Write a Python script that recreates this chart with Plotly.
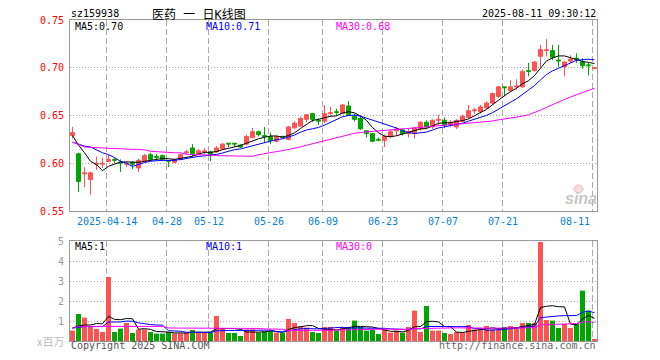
import plotly.graph_objects as go

# ---------------- data ----------------
stock_code = "sz159938"
chart_title = "医药 一 日K线图"
timestamp = "2025-08-11 09:30:12"

tick_index = [6, 16, 23, 33, 42, 52, 62, 72, 87]
tick_labels = ["2025-04-14", "04-28", "05-12", "05-26", "06-09",
               "06-23", "07-07", "07-21", "08-11"]
price_ticks = [0.55, 0.60, 0.65, 0.70, 0.75]
vol_ticks = [1, 2, 3, 4, 5]

open_ = [0.629, 0.610, 0.589, 0.583, 0.599, 0.599, 0.602, 0.604, 0.601, 0.599,
         0.601, 0.595, 0.602, 0.609, 0.607, 0.608, 0.603, 0.601, 0.604, 0.611,
         0.616, 0.610, 0.612, 0.612, 0.612, 0.615, 0.621, 0.621, 0.619, 0.620,
         0.627, 0.633, 0.629, 0.628, 0.623, 0.628, 0.625, 0.637, 0.639, 0.646,
         0.652, 0.645, 0.644, 0.652, 0.654, 0.652, 0.660, 0.649, 0.647, 0.634,
         0.631, 0.625, 0.624, 0.628, 0.634, 0.635, 0.631, 0.631, 0.636, 0.643,
         0.638, 0.645, 0.645, 0.640, 0.638, 0.644, 0.648, 0.655, 0.654, 0.658,
         0.663, 0.670, 0.680, 0.676, 0.680, 0.680, 0.697, 0.697, 0.712, 0.718,
         0.718, 0.708, 0.701, 0.707, 0.710, 0.706, 0.703, 0.699]
high = [0.638, 0.611, 0.596, 0.591, 0.607, 0.606, 0.609, 0.606, 0.604, 0.602,
        0.602, 0.605, 0.610, 0.611, 0.610, 0.609, 0.603, 0.605, 0.610, 0.614,
        0.620, 0.615, 0.616, 0.613, 0.618, 0.621, 0.621, 0.621, 0.620, 0.630,
        0.637, 0.634, 0.638, 0.632, 0.628, 0.629, 0.639, 0.644, 0.649, 0.651,
        0.652, 0.647, 0.661, 0.659, 0.657, 0.662, 0.665, 0.652, 0.650, 0.634,
        0.631, 0.627, 0.630, 0.635, 0.638, 0.636, 0.636, 0.638, 0.644, 0.645,
        0.646, 0.651, 0.648, 0.645, 0.646, 0.651, 0.661, 0.658, 0.661, 0.665,
        0.674, 0.681, 0.680, 0.687, 0.688, 0.698, 0.705, 0.707, 0.724, 0.730,
        0.724, 0.724, 0.707, 0.713, 0.715, 0.710, 0.705, 0.701]
low = [0.626, 0.570, 0.575, 0.567, 0.593, 0.595, 0.601, 0.600, 0.591, 0.596,
       0.594, 0.591, 0.601, 0.602, 0.603, 0.602, 0.596, 0.600, 0.603, 0.609,
       0.607, 0.609, 0.609, 0.602, 0.611, 0.614, 0.617, 0.617, 0.616, 0.619,
       0.626, 0.628, 0.622, 0.620, 0.622, 0.626, 0.624, 0.636, 0.638, 0.643,
       0.643, 0.640, 0.642, 0.650, 0.650, 0.652, 0.650, 0.644, 0.635, 0.627,
       0.622, 0.623, 0.617, 0.626, 0.629, 0.629, 0.627, 0.626, 0.634, 0.636,
       0.636, 0.640, 0.637, 0.638, 0.636, 0.643, 0.647, 0.652, 0.652, 0.657,
       0.661, 0.668, 0.670, 0.675, 0.677, 0.679, 0.691, 0.696, 0.701, 0.712,
       0.708, 0.701, 0.691, 0.705, 0.705, 0.699, 0.692, 0.699]
close = [0.632, 0.581, 0.590, 0.590, 0.600, 0.600, 0.604, 0.603, 0.600, 0.600,
         0.599, 0.603, 0.608, 0.604, 0.606, 0.604, 0.602, 0.604, 0.609, 0.612,
         0.610, 0.613, 0.613, 0.609, 0.616, 0.620, 0.620, 0.620, 0.617, 0.628,
         0.633, 0.630, 0.628, 0.624, 0.628, 0.627, 0.638, 0.642, 0.647, 0.651,
         0.646, 0.644, 0.652, 0.653, 0.653, 0.661, 0.651, 0.646, 0.636, 0.631,
         0.623, 0.624, 0.628, 0.633, 0.636, 0.631, 0.633, 0.637, 0.643, 0.638,
         0.645, 0.646, 0.640, 0.643, 0.645, 0.649, 0.655, 0.656, 0.659, 0.663,
         0.673, 0.680, 0.679, 0.680, 0.681, 0.696, 0.696, 0.706, 0.719, 0.719,
         0.711, 0.707, 0.706, 0.709, 0.709, 0.702, 0.702, 0.700]
volume = [0.52, 1.35, 1.17, 0.72, 0.60, 0.45, 3.20, 0.45, 0.62, 0.90,
          0.40, 0.58, 0.58, 0.45, 0.37, 0.37, 0.45, 0.38, 0.38, 0.42,
          0.55, 0.42, 0.42, 0.42, 1.25, 0.63, 0.40, 0.40, 0.25, 0.58,
          0.58, 0.42, 0.47, 0.50, 0.42, 0.42, 1.10, 0.90, 0.73, 0.67,
          0.45, 0.40, 0.70, 0.70, 0.52, 0.70, 0.70, 1.02, 0.70, 0.52,
          0.55, 0.35, 0.58, 0.42, 0.52, 0.42, 0.70, 1.52, 0.45, 1.75,
          0.52, 0.52, 0.40, 0.35, 0.45, 0.40, 0.80, 0.58, 0.58, 0.75,
          0.58, 0.58, 0.70, 0.75, 0.70, 0.90, 0.90, 0.90, 4.95, 1.05,
          1.02, 0.65, 0.85, 0.65, 0.85, 2.52, 1.52, 0.10]

# moving-average values for the first days (before a full window exists)
ma5_head = [0.629, 0.619, 0.611, 0.602]
ma10_head = [0.622, 0.620, 0.618, 0.617, 0.614, 0.611, 0.609, 0.606, 0.602]
ma30_head = [0.622, 0.620, 0.617, 0.6165, 0.616, 0.6157, 0.6157, 0.6155, 0.615, 0.6147,
             0.6145, 0.6145, 0.614, 0.6125, 0.612, 0.612, 0.611, 0.611, 0.611, 0.6095,
             0.609, 0.609, 0.6086, 0.6086, 0.608, 0.608, 0.6075, 0.6075, 0.6075]
vma5_head = [0.65, 0.75, 0.80, 0.80]
vma10_head = [0.65, 0.70, 0.72, 0.72, 0.72, 0.72, 0.95, 0.95, 0.95]
vma30_head = [0.62] + [0.73] * 15 + [0.65] * 13


def rolling(vals, n, head):
    out = list(head)
    for i in range(len(head), len(vals)):
        out.append(sum(vals[i - n + 1:i + 1]) / n)
    return out


ma5 = rolling(close, 5, ma5_head)
ma10 = rolling(close, 10, ma10_head)
ma30 = rolling(close, 30, ma30_head)
vma5 = rolling(volume, 5, vma5_head)
vma10 = rolling(volume, 10, vma10_head)
vma30 = rolling(volume, 30, vma30_head)

# ---------------- style ----------------
RED = "#FF5252"
GREEN = "#00A600"
MONO = "DejaVu Sans Mono"
GRID = "#AAAAAA"
BORDER = "#999999"

OFF = 8                      # page body margin of the html page
W, H = 660 - OFF, 360 - OFF  # figure size that fits the window
L, R, T, B = 70, 597, 20, 341  # plot-area edges in window pixels


def px(x):
    return (x - L) / (R - L)


def py(y):
    return (B - y) / (B - T)


n = len(close)
idx = list(range(n))
up = [c >= o for o, c in zip(open_, close)]

fig = go.Figure()

# candle wicks
for is_up, col in ((True, RED), (False, GREEN)):
    wx, wy = [], []
    for i in idx:
        if up[i] == is_up:
            wx += [i, i, None]
            wy += [low[i], high[i], None]
    fig.add_trace(go.Scatter(x=wx, y=wy, mode="lines", line=dict(color=col, width=1),
                             hoverinfo="skip", xaxis="x", yaxis="y"))

# candle bodies
for is_up, col in ((True, RED), (False, GREEN)):
    bx = [i for i in idx if up[i] == is_up]
    base = [min(open_[i], close[i]) for i in bx]
    h = [abs(close[i] - open_[i]) for i in bx]
    fig.add_trace(go.Bar(x=bx, y=h, base=base, width=4 / 6,
                         marker=dict(color=col, line=dict(color=col, width=1)),
                         xaxis="x", yaxis="y"))

# price MAs
for vals, col in ((ma5, "black"), (ma10, "#0000FF"), (ma30, "#FF00FF")):
    fig.add_trace(go.Scatter(x=idx, y=vals, mode="lines", line=dict(color=col, width=1),
                             xaxis="x", yaxis="y"))

# volume bars
fig.add_trace(go.Bar(x=idx, y=volume, width=5 / 6,
                     marker=dict(color=[RED if u else GREEN for u in up], line=dict(width=0)),
                     xaxis="x2", yaxis="y2"))
for vals, col in ((vma5, "black"), (vma10, "#0000FF"), (vma30, "#FF00FF")):
    fig.add_trace(go.Scatter(x=idx, y=vals, mode="lines", line=dict(color=col, width=1),
                             xaxis="x2", yaxis="y2"))

xr = [-2.5 / 6, (R - L - 2.5) / 6]
grid_x = [t - 0.28 for t in tick_index]
xcommon = dict(range=xr, tickmode="array", tickvals=grid_x, showticklabels=False,
               showgrid=True, gridcolor=GRID, griddash="6px,3px", gridwidth=1,
               zeroline=False, showline=True, mirror=True, linecolor=BORDER, linewidth=1,
               ticks="", fixedrange=True)

fig.update_layout(
    width=W, height=H,
    margin=dict(l=L - OFF, r=660 - R, t=T - OFF, b=360 - B, autoexpand=False),
    paper_bgcolor="white", plot_bgcolor="white",
    showlegend=False, barmode="overlay",
    font=dict(family=MONO, size=10, color="black"),
    xaxis=dict(domain=[0, 1], anchor="y", **xcommon),
    xaxis2=dict(domain=[0, 1], anchor="y2", matches="x", **xcommon),
    yaxis=dict(domain=[py(211), 1], range=[price_ticks[0], price_ticks[-1]],
               tickmode="array", tickvals=price_ticks,
               ticktext=[f"{v:.2f}" for v in price_ticks],
               tickfont=dict(color="#FF0000", family=MONO, size=10),
               showgrid=True, gridcolor=GRID, griddash="1px,2px",
               zeroline=False, showline=True, mirror=True, linecolor=BORDER,
               ticks="outside", ticklen=3, tickcolor="rgba(0,0,0,0)", fixedrange=True),
    yaxis2=dict(domain=[0, py(241)], range=[0, vol_ticks[-1]],
                tickmode="array", tickvals=vol_ticks, ticktext=[str(v) for v in vol_ticks],
                tickfont=dict(color="#999999", family=MONO, size=10),
                showgrid=True, gridcolor=GRID, griddash="1px,2px",
                zeroline=False, showline=True, mirror=True, linecolor=BORDER,
                ticks="outside", ticklen=3, tickcolor="rgba(0,0,0,0)", fixedrange=True),
)

ann = []


def text(x, y, s, color="black", anchor="left", size=10, family=MONO, xref="paper", **kw):
    ann.append(dict(x=x, y=py(y), xref=xref, yref="paper", text=s, showarrow=False,
                    xanchor=anchor, yanchor="middle", borderpad=0,
                    font=dict(color=color, size=size, family=family), **kw))


text(px(70), 14, stock_code)
text(px(199), 15, chart_title, anchor="center", size=12,
     family="DejaVu Sans Mono, Noto Sans CJK SC")
text(px(597), 14, timestamp, anchor="right")
text(px(74), 26.5, f"MA5:{ma5[-1]:.2f}")
text(px(205), 26.5, f"MA10:{ma10[-1]:.2f}", color="#0000FF")
text(px(335), 26.5, f"MA30:{ma30[-1]:.2f}", color="#FF00FF")
text(px(74), 246, f"MA5:{int(vma5[-1])}")
text(px(205), 246, f"MA10:{int(vma10[-1])}", color="#0000FF")
text(px(335), 246, f"MA30:{int(vma30[-1])}", color="#FF00FF")

for k, (ti, lab) in enumerate(zip(tick_index, tick_labels)):
    if k == len(tick_index) - 1:
        text(px(591), 221.5, lab, color="#0A7FD0", anchor="right")
    else:
        text(ti - 0.28, 221.5, lab, color="#0A7FD0", anchor="center", xref="x")

text(px(65), 341, "x百万", color="#BBBBBB", anchor="right", size=11, family="Noto Sans CJK SC")
text(px(70), 346, "Copyright 2025 SINA.COM", color="#555555")
text(px(597), 346, "http://finance.sina.com.cn", color="#666666", anchor="right")
text(px(581), 198, "<b><i>sina</i></b>", color="#C8C8C8", anchor="center", size=16,
     family="Liberation Sans")

# small pink "eye" of the sina watermark logo
fig.add_shape(type="circle", xref="paper", yref="paper",
              x0=px(574), x1=px(583), y0=py(193), y1=py(185),
              line=dict(color="#F2B8B8", width=1), fillcolor="rgba(242,184,184,0.5)")

fig.update_layout(annotations=ann)
fig.write_html("out.html")
